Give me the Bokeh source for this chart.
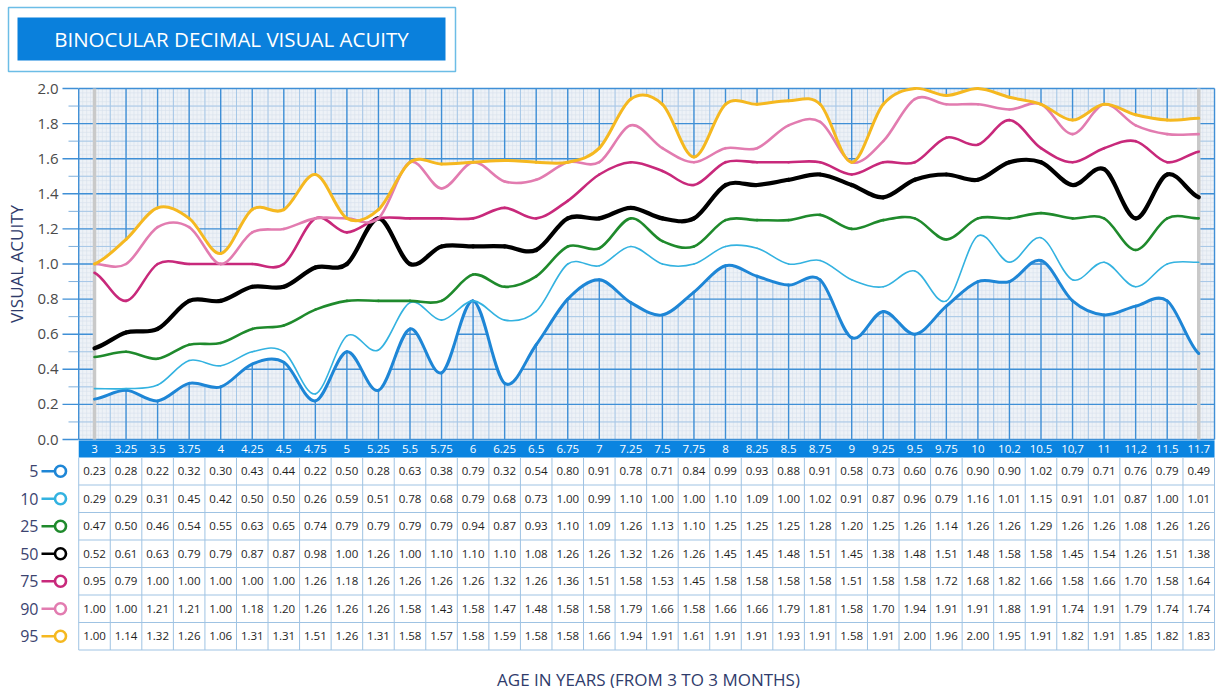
import numpy as np
from bokeh.plotting import figure
from bokeh.models import Range1d, ColumnDataSource
from bokeh.core.properties import value
from bokeh.embed import file_html
from bokeh.resources import INLINE

# ---------------- data ----------------
ages = ["3", "3.25", "3.5", "3.75", "4", "4.25", "4.5", "4.75", "5", "5.25", "5.5", "5.75",
        "6", "6.25", "6.5", "6.75", "7", "7.25", "7.5", "7.75", "8", "8.25", "8.5", "8.75",
        "9", "9.25", "9.5", "9.75", "10", "10.2", "10.5", "10,7", "11", "11,2", "11.5", "11.7"]

p5 = [0.23, 0.28, 0.22, 0.32, 0.30, 0.43, 0.44, 0.22, 0.50, 0.28, 0.63, 0.38, 0.79, 0.32, 0.54, 0.80,
      0.91, 0.78, 0.71, 0.84, 0.99, 0.93, 0.88, 0.91, 0.58, 0.73, 0.60, 0.76, 0.90, 0.90, 1.02, 0.79,
      0.71, 0.76, 0.79, 0.49]
p10 = [0.29, 0.29, 0.31, 0.45, 0.42, 0.50, 0.50, 0.26, 0.59, 0.51, 0.78, 0.68, 0.79, 0.68, 0.73, 1.00,
       0.99, 1.10, 1.00, 1.00, 1.10, 1.09, 1.00, 1.02, 0.91, 0.87, 0.96, 0.79, 1.16, 1.01, 1.15, 0.91,
       1.01, 0.87, 1.00, 1.01]
p25 = [0.47, 0.50, 0.46, 0.54, 0.55, 0.63, 0.65, 0.74, 0.79, 0.79, 0.79, 0.79, 0.94, 0.87, 0.93, 1.10,
       1.09, 1.26, 1.13, 1.10, 1.25, 1.25, 1.25, 1.28, 1.20, 1.25, 1.26, 1.14, 1.26, 1.26, 1.29, 1.26,
       1.26, 1.08, 1.26, 1.26]
p50 = [0.52, 0.61, 0.63, 0.79, 0.79, 0.87, 0.87, 0.98, 1.00, 1.26, 1.00, 1.10, 1.10, 1.10, 1.08, 1.26,
       1.26, 1.32, 1.26, 1.26, 1.45, 1.45, 1.48, 1.51, 1.45, 1.38, 1.48, 1.51, 1.48, 1.58, 1.58, 1.45,
       1.54, 1.26, 1.51, 1.38]
p75 = [0.95, 0.79, 1.00, 1.00, 1.00, 1.00, 1.00, 1.26, 1.18, 1.26, 1.26, 1.26, 1.26, 1.32, 1.26, 1.36,
       1.51, 1.58, 1.53, 1.45, 1.58, 1.58, 1.58, 1.58, 1.51, 1.58, 1.58, 1.72, 1.68, 1.82, 1.66, 1.58,
       1.66, 1.70, 1.58, 1.64]
p90 = [1.00, 1.00, 1.21, 1.21, 1.00, 1.18, 1.20, 1.26, 1.26, 1.26, 1.58, 1.43, 1.58, 1.47, 1.48, 1.58,
       1.58, 1.79, 1.66, 1.58, 1.66, 1.66, 1.79, 1.81, 1.58, 1.70, 1.94, 1.91, 1.91, 1.88, 1.91, 1.74,
       1.91, 1.79, 1.74, 1.74]
p95 = [1.00, 1.14, 1.32, 1.26, 1.06, 1.31, 1.31, 1.51, 1.26, 1.31, 1.58, 1.57, 1.58, 1.59, 1.58, 1.58,
       1.66, 1.94, 1.91, 1.61, 1.91, 1.91, 1.93, 1.91, 1.58, 1.91, 2.00, 1.96, 2.00, 1.95, 1.91, 1.82,
       1.91, 1.85, 1.82, 1.83]

percentiles = ["5", "10", "25", "50", "75", "90", "95"]
series = [p5, p10, p25, p50, p75, p90, p95]
y_ticks = [0.0, 0.2, 0.4, 0.6, 0.8, 1.0, 1.2, 1.4, 1.6, 1.8, 2.0]

# ---------------- styles ----------------
colors = ["#1e86d6", "#33b2e0", "#1f8a2c", "#000000", "#c8297b", "#e27cb0", "#f5b820"]
widths = [3, 1.6, 2.6, 4.2, 2.6, 2.6, 3]
FONT = value("Open Sans")
NAVY = "#2f3b6b"
GRIDBLUE = "#3f8fd6"

OFF = 0                     # page offset of the canvas
W, H = 1218, 688
X0, S = 94.0, 31.55         # page x of first category, px per category
Y0, K = 439.0, 175.5        # page y of acuity 0, px per acuity unit


def gx(px):
    return (px - X0) / S


def gy(py):
    return (Y0 - py) / K


p = figure(width=W, height=H, x_range=Range1d(gx(OFF), gx(OFF + W)),
           y_range=Range1d(gy(OFF + H), gy(OFF)), min_border=0,
           toolbar_location=None, output_backend="svg",
           x_axis_type=None, y_axis_type=None)
p.outline_line_color = None
p.background_fill_color = "white"
p.border_fill_color = "white"
p.extra_x_ranges = {"px": Range1d(OFF, OFF + W)}
p.extra_y_ranges = {"px": Range1d(OFF + H, OFF)}

n = len(ages)
xi = np.arange(n)
XL, XR = -0.5, n - 0.5

# ---------------- chart background grid ----------------
p.quad(left=XL, right=XR, bottom=0, top=2.0, fill_color="#eef2f7", line_color=None)
fx = np.arange(XL, XR + 1e-9, 1 / 8)
p.segment(x0=fx, y0=0, x1=fx, y1=2.0, line_color="#d6e1ed", line_width=0.6)
fy = np.arange(0, 2.0 + 1e-9, 0.025)
p.segment(x0=XL, y0=fy, x1=XR, y1=fy, line_color="#d6e1ed", line_width=0.6)
mx = np.arange(0.5, n - 0.5, 1.0)
p.segment(x0=mx, y0=0, x1=mx, y1=2.0, line_color="#a6c7e7", line_width=1)
my = np.arange(0.1, 2.0, 0.2)
p.segment(x0=XL, y0=my, x1=XR, y1=my, line_color="#a6c7e7", line_width=1)
Mx = list(xi) + [XL, XR]
p.segment(x0=Mx, y0=0, x1=Mx, y1=2.0, line_color=GRIDBLUE, line_width=1.4)
p.segment(x0=XL, y0=y_ticks, x1=XR, y1=y_ticks, line_color=GRIDBLUE, line_width=1.4)


# ---------------- smooth curves (cardinal spline -> bezier) ----------------
def ctrl(y):
    y = np.asarray(y, float)
    m = len(y)
    c0, c1 = [], []
    for i in range(m - 1):
        ym = y[i - 1] if i > 0 else y[i]
        yp = y[i + 2] if i + 2 < m else y[i + 1]
        c0.append(y[i] + (y[i + 1] - ym) / 6)
        c1.append(y[i + 1] - (yp - y[i]) / 6)
    return y, np.array(c0), np.array(c1)


def sample(y, k=14):
    y, c0, c1 = ctrl(y)
    xs, ys = [], []
    t = np.linspace(0, 1, k, endpoint=False)
    for i in range(len(y) - 1):
        b = (1 - t) ** 3 * y[i] + 3 * (1 - t) ** 2 * t * c0[i] + 3 * (1 - t) * t ** 2 * c1[i] + t ** 3 * y[i + 1]
        xs.extend(i + t)
        ys.extend(b)
    xs.append(len(y) - 1)
    ys.append(y[-1])
    return np.array(xs), np.array(ys)


sx, lo = sample(p5)
_, hi = sample(p95)
p.varea(x=sx, y1=lo, y2=hi, fill_color="white")

# grey edge lines at first and last age
p.segment(x0=[0, n - 1], y0=0, x1=[0, n - 1], y1=2.0, line_color="#c9c9c9", line_width=3.5)

for vals, c, w in zip(series, colors, widths):
    y, c0, c1 = ctrl(vals)
    src = ColumnDataSource(dict(x0=xi[:-1], y0=y[:-1], x1=xi[1:], y1=y[1:],
                                cx0=xi[:-1] + 1 / 3, cy0=c0, cx1=xi[1:] - 1 / 3, cy1=c1))
    p.bezier(x0="x0", y0="y0", x1="x1", y1="y1", cx0="cx0", cy0="cy0", cx1="cx1", cy1="cy1",
             source=src, line_color=c, line_width=w, line_cap="round")

# ---------------- y axis (ticks + labels) ----------------
p.segment(x0=62, y0=y_ticks, x1=78, y1=y_ticks, x_range_name="px",
          line_color=GRIDBLUE, line_width=1.4)
p.segment(x0=68, y0=my, x1=78, y1=my, x_range_name="px", line_color="#7fb0dd", line_width=1)
p.text(x=58, y=y_ticks, text=["%.1f" % v for v in y_ticks], x_range_name="px",
       text_align="right", text_baseline="middle", text_font=FONT,
       text_font_size=value("15px"), text_color="#4a4a4a")
p.text(x=[16], y=[1.0], text=["VISUAL ACUITY"], x_range_name="px", angle=np.pi / 2,
       text_align="center", text_baseline="middle", text_font=FONT,
       text_font_size=value("17px"), text_color=NAVY)

# ---------------- age band ----------------
BAND_T, BAND_B = 440, 457
p.quad(left=XL, right=XR, top=BAND_T, bottom=BAND_B, y_range_name="px",
       fill_color="#0a84e0", line_color=None)
p.text(x=xi, y=(BAND_T + BAND_B) / 2, text=ages, y_range_name="px",
       text_align="center", text_baseline="middle", text_font=FONT,
       text_font_size=value("11.5px"), text_color="white")

# ---------------- table ----------------
ROW = 27.5
rows_y = [BAND_B + ROW / 2 + ROW * r for r in range(len(series))]
TBL_B = BAND_B + ROW * len(series)
vx = np.arange(XL, XR + 1e-9, 1.0)
p.segment(x0=vx, y0=BAND_B, x1=vx, y1=TBL_B, y_range_name="px",
          line_color="#9fc3e3", line_width=1)
hy = [BAND_B + ROW * r for r in range(1, len(series) + 1)]
p.segment(x0=XL, y0=hy, x1=XR, y1=hy, y_range_name="px",
          line_color="#9fc3e3", line_width=1)
for r, vals in enumerate(series):
    p.text(x=xi, y=rows_y[r], text=["%.2f" % v for v in vals], y_range_name="px",
           text_align="center", text_baseline="middle", text_font=FONT,
           text_font_size=value("11.5px"), text_color="#1e1e1e")

# row legend labels
p.text(x=38, y=rows_y, text=percentiles, x_range_name="px", y_range_name="px",
       text_align="right", text_baseline="middle", text_font=FONT,
       text_font_size=value("16px"), text_color="#3c4470")
p.segment(x0=41, y0=rows_y, x1=55, y1=rows_y, x_range_name="px", y_range_name="px",
          line_color=colors, line_width=2.6)
p.scatter(x=[60] * len(rows_y), y=rows_y, x_range_name="px", y_range_name="px",
          marker="circle", size=11, fill_color="white", line_color=colors, line_width=2.6)

# ---------------- x axis title ----------------
p.text(x=[648], y=[679], text=["AGE IN YEARS (FROM 3 TO 3 MONTHS)"], x_range_name="px",
       y_range_name="px", text_align="center", text_baseline="middle", text_font=FONT,
       text_font_size=value("17px"), text_color=NAVY)

# ---------------- chart title box ----------------
p.quad(left=8, right=455, top=7, bottom=71, x_range_name="px", y_range_name="px",
       fill_color=None, line_color="#6cbde6", line_width=1.5)
p.quad(left=17, right=445, top=17, bottom=60, x_range_name="px", y_range_name="px",
       fill_color="#0a80dc", line_color=None)
p.text(x=[231], y=[38.5], text=["BINOCULAR DECIMAL VISUAL ACUITY"], x_range_name="px",
       y_range_name="px", text_align="center", text_baseline="middle", text_font=FONT,
       text_font_size=value("20.5px"), text_color="white")

open("out.html", "w").write(file_html(p, INLINE))
